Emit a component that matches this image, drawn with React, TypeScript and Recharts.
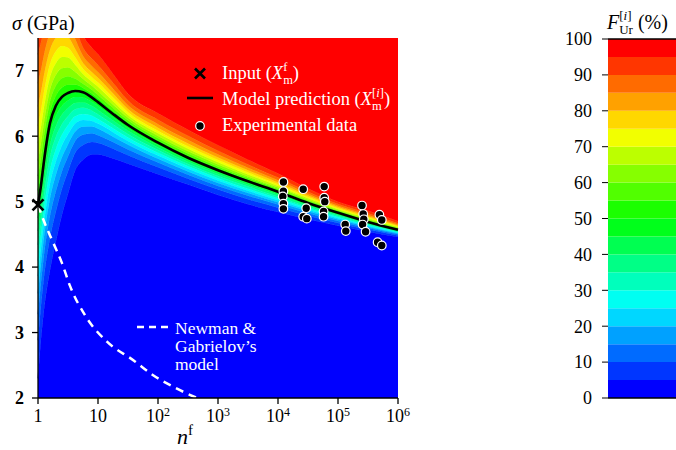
import React from "react"
import { ComposedChart, BarChart, Bar, Area, Line, Scatter, XAxis, YAxis, ReferenceLine } from "recharts"

const SERIF = '"Liberation Serif", "Times New Roman", Times, serif'

// log10(n^f) sample positions
const logN = [0, 0.05, 0.1, 0.2, 0.3, 0.4, 0.5, 0.62, 0.75, 0.9, 1.0, 1.25, 1.5, 2, 2.5, 3, 3.5, 4, 4.5, 5, 5.5, 6]
// model prediction (50 % contour), GPa
const median = [4.95, 5.25, 5.62, 6.2, 6.47, 6.6, 6.66, 6.69, 6.67, 6.59, 6.52, 6.34, 6.17, 5.9, 5.67, 5.48, 5.31, 5.15, 4.98, 4.83, 4.69, 4.57]
// 5 % contour
const lower5 = [2.3, 2.9, 3.35, 3.95, 4.4, 4.8, 5.12, 5.48, 5.64, 5.72, 5.72, 5.66, 5.58, 5.42, 5.26, 5.1, 4.96, 4.84, 4.73, 4.63, 4.54, 4.46]
// 95 % contour
const upper95 = [7.9, 8.05, 8.2, 8.4, 8.5, 8.5, 8.35, 7.95, 7.55, 7.35, 7.25, 6.95, 6.65, 6.35, 6.1, 5.86, 5.64, 5.43, 5.2, 5.0, 4.86, 4.7]
// relative distance of the 5,10,...,50 % contours from the median
const levelShape = [1, 0.78, 0.63, 0.51, 0.41, 0.32, 0.23, 0.15, 0.075, 0]

const COLORS = [
  "#0000FF", "#0036FF", "#006BFF", "#00A1FF", "#00D7FF",
  "#00FFF2", "#00FFBC", "#00FF86", "#00FF51", "#00FF1B",
  "#1BFF00", "#51FF00", "#86FF00", "#BCFF00", "#F2FF00",
  "#FFD700", "#FFA100", "#FF6B00", "#FF3600", "#FF0000",
]
const cbLevels = [0, 5, 10, 15, 20, 25, 30, 35, 40, 45, 50, 55, 60, 65, 70, 75, 80, 85, 90, 95, 100]
const cbTicks = [0, 10, 20, 30, 40, 50, 60, 70, 80, 90, 100]

// Newman & Gabrielov's model
const ngLogN = [0, 0.1, 0.25, 0.4, 0.53, 0.8, 1.15, 1.6, 1.9, 2.3, 2.65]
const ngSigma = [4.95, 4.7, 4.38, 4.06, 3.72, 3.24, 2.86, 2.57, 2.36, 2.15, 2.0]

// experimental data
const expLogN = [4.09, 4.09, 4.08, 4.09, 4.09, 4.42, 4.47, 4.42, 4.48, 4.77, 4.77, 4.78, 4.76, 4.76, 5.12, 5.13, 5.4, 5.42, 5.43, 5.41, 5.46, 5.69, 5.73, 5.66, 5.73]
const expSigma = [5.3, 5.16, 5.08, 4.97, 4.89, 5.19, 4.9, 4.77, 4.74, 5.23, 5.06, 5.0, 4.85, 4.77, 4.65, 4.55, 4.94, 4.81, 4.73, 4.65, 4.54, 4.8, 4.72, 4.38, 4.33]

const inputPoint = [{ x: 0, y: 4.95 }]

const table = logN.map((x, i) => {
  const m = median[i]
  const lo = lower5[i]
  const hi = upper95[i]
  const levels: number[] = []
  for (let j = 0; j < 10; j++) levels.push(m - (m - lo) * levelShape[j])
  for (let j = 8; j >= 0; j--) levels.push(m + (hi - m) * levelShape[j])
  const row: any = { x, model: m }
  row.b0 = levels[0]
  for (let k = 1; k < 19; k++) row[`b${k}`] = levels[k] - levels[k - 1]
  row.b19 = 10 - levels[18]
  return row
})

const ngData = ngLogN.map((x, i) => ({ x, y: ngSigma[i] }))
const expData = expLogN.map((x, i) => ({ x, y: expSigma[i] }))

const cbRow: any = { name: "cb" }
COLORS.forEach((_, i) => {
  cbRow[`b${i}`] = cbLevels[i + 1] - cbLevels[i]
})
const cbData = [cbRow]

const XTick = (props: any) => {
  const { x, y, payload } = props
  const v = payload.value
  return (
    <text x={x} y={y + 16} textAnchor="middle" fontFamily={SERIF} fontSize={18} fill="#000">
      {v === 0 ? "1" : "10"}
      {v >= 2 && (
        <tspan dy={-6} fontSize={12}>
          {v}
        </tspan>
      )}
    </text>
  )
}

const Cross = (props: any) => {
  const { cx, cy } = props
  const s = 5.5
  return (
    <g stroke="#000" strokeWidth={2.6}>
      <line x1={cx - s} y1={cy - s} x2={cx + s} y2={cy + s} />
      <line x1={cx - s} y1={cy + s} x2={cx + s} y2={cy - s} />
    </g>
  )
}

const Dot = (props: any) => <circle cx={props.cx} cy={props.cy} r={4.3} fill="#000" stroke="#fff" strokeWidth={1.2} />

export default function App() {
  return (
    <div style={{ position: "absolute", left: 0, top: 0, width: 676, height: 450, background: "#fff", fontFamily: SERIF }}>
      <style>{`svg text { font-family: "Liberation Serif", "Times New Roman", Times, serif; }`}</style>
      <div style={{ position: "absolute", left: 0, top: 0 }}>
        <ComposedChart width={420} height={450} data={table} margin={{ top: 38, right: 22, bottom: 22, left: 8 }}>
          <XAxis
            type="number"
            dataKey="x"
            domain={[0, 6]}
            ticks={[0, 1, 2, 3, 4, 5, 6]}
            height={30}
            stroke="#000"
            strokeWidth={1.3}
            tickSize={6}
            tickMargin={2}
            tick={<XTick />}
          />
          <YAxis
            type="number"
            domain={[2, 7.5]}
            ticks={[2, 3, 4, 5, 6, 7]}
            allowDataOverflow
            width={30}
            stroke="#000"
            strokeWidth={1.3}
            tickSize={6}
            tickMargin={8}
            tick={{ fontSize: 18, fill: "#000", fontFamily: SERIF, fontWeight: 700 }}
          />
          <YAxis yAxisId="pts" type="number" domain={[2, 7.5]} hide />
          {COLORS.map((c, i) => (
            <Area
              key={c}
              type="monotone"
              dataKey={`b${i}`}
              stackId="f"
              fill={c}
              stroke={c}
              strokeWidth={0.8}
              fillOpacity={1}
              dot={false}
              activeDot={false}
              isAnimationActive={false}
            />
          ))}
          <Line
            yAxisId="pts"
            data={ngData}
            dataKey="y"
            type="monotone"
            stroke="#fff"
            strokeWidth={2.5}
            strokeDasharray="8 6"
            dot={false}
            isAnimationActive={false}
          />
          <Line
            yAxisId="pts"
            dataKey="model"
            type="monotone"
            stroke="#000"
            strokeWidth={2.6}
            dot={false}
            isAnimationActive={false}
          />
          <Scatter yAxisId="pts" data={expData} dataKey="y" shape={<Dot />} isAnimationActive={false} />
          <Scatter yAxisId="pts" data={inputPoint} dataKey="y" shape={<Cross />} isAnimationActive={false} />
        </ComposedChart>
      </div>

      <div style={{ position: "absolute", left: 540, top: 0 }}>
        <BarChart width={136} height={450} data={cbData} margin={{ top: 39, right: 0, bottom: 52, left: 8 }} barCategoryGap={0}>
          <XAxis dataKey="name" hide />
          <YAxis
            type="number"
            domain={[0, 100]}
            ticks={cbTicks}
            width={60}
            axisLine={false}
            stroke="#000"
            tickSize={6}
            tickMargin={10}
            tick={{ fontSize: 18, fill: "#000", fontFamily: SERIF }}
          />
          {COLORS.map((c, i) => (
            <Bar key={c} dataKey={`b${i}`} stackId="cb" fill={c} isAnimationActive={false} />
          ))}
          <ReferenceLine y={100} stroke="#000" strokeWidth={1.3} />
          <ReferenceLine y={0} stroke="#000" strokeWidth={1.3} />
        </BarChart>
      </div>

      <svg
        width={676}
        height={450}
        style={{ position: "absolute", left: 0, top: 0, pointerEvents: "none" }}
        fontFamily={SERIF}
      >
        <text x={12} y={30} fontSize={20} fill="#000">
          <tspan fontStyle="italic">σ</tspan> (GPa)
        </text>
        <text x={177} y={444} fontSize={22} fill="#000">
          <tspan fontStyle="italic">n</tspan>
          <tspan fontSize={15} dy={-9}>
            f
          </tspan>
        </text>

        <g stroke="#000" strokeWidth={2.6}>
          <line x1={195} y1={68.5} x2={205} y2={78.5} />
          <line x1={195} y1={78.5} x2={205} y2={68.5} />
        </g>
        <text x={222} y={79} fontSize={18.5} fill="#fff">
          Input (<tspan fontStyle="italic">X</tspan>
          <tspan fontSize={12.5} dy={5}>m</tspan>
          <tspan fontSize={12.5} dx={-9.7} dy={-13}>f</tspan>
          <tspan dx={5.5} dy={8}>)</tspan>
        </text>

        <line x1={187} y1={98} x2={213} y2={98} stroke="#000" strokeWidth={2.6} />
        <text x={222} y={104.5} fontSize={18.5} fill="#fff">
          Model prediction (<tspan fontStyle="italic">X</tspan>
          <tspan fontSize={12.5} dy={5}>m</tspan>
          <tspan fontSize={12.5} dx={-9.7} dy={-13}>[</tspan>
          <tspan fontSize={12.5} fontStyle="italic">i</tspan>
          <tspan fontSize={12.5}>]</tspan>
          <tspan dy={8}>)</tspan>
        </text>

        <circle cx={200} cy={126} r={4.3} fill="#000" stroke="#fff" strokeWidth={1.2} />
        <text x={222} y={130.5} fontSize={18.5} fill="#fff">
          Experimental data
        </text>

        <line x1={137} y1={327} x2={173} y2={327} stroke="#fff" strokeWidth={2.5} strokeDasharray="7 5" />
        <text x={175} y={334} fontSize={17.5} fill="#fff">Newman &amp;</text>
        <text x={175} y={352} fontSize={17.5} fill="#fff">Gabrielov’s</text>
        <text x={175} y={370} fontSize={17.5} fill="#fff">model</text>

        <text x={607} y={29} fontSize={20} fill="#000">
          <tspan fontStyle="italic">F</tspan>
          <tspan fontSize={13} dy={-9}>[</tspan>
          <tspan fontSize={13} fontStyle="italic">i</tspan>
          <tspan fontSize={13}>]</tspan>
          <tspan fontSize={13} dx={-12.3} dy={14}>Ur</tspan>
          <tspan dy={-5}> (%)</tspan>
        </text>
      </svg>
    </div>
  )
}
